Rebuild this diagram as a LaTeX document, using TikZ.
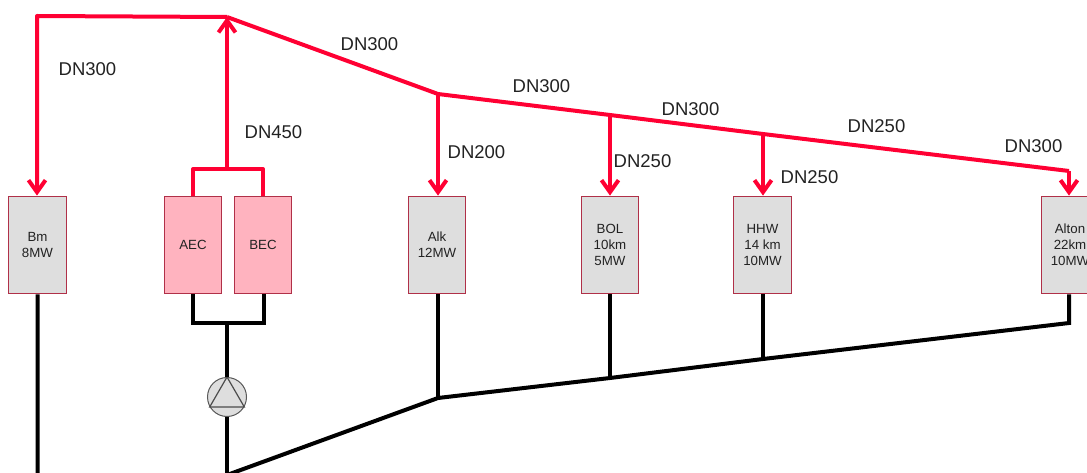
\documentclass[tikz,border=0pt]{standalone}
\usepackage{fontspec}
\setmainfont{Liberation Sans}
\usetikzlibrary{arrows.meta}
\definecolor{pipered}{HTML}{FF0033}
\definecolor{edge}{HTML}{B03048}
\definecolor{pinkbg}{HTML}{FFB3BF}
\definecolor{graybg}{HTML}{DEDEDE}
\definecolor{ink}{HTML}{222222}
\tikzset{
  blk/.style={rectangle,draw=edge,fill=graybg,line width=1.3pt,align=center,
    inner sep=0pt,minimum width=57.5pt,minimum height=97.5pt,text=ink,
    font=\fontsize{13.3}{16}\selectfont},
  blkp/.style={blk,fill=pinkbg},
  pipe/.style={line width=4pt,draw=pipered,line join=round},
  pipear/.style={pipe,-{Straight Barb[length=12pt,width=17pt,line width=4pt]}},
  ret/.style={line width=4pt,draw=black,line join=miter},
  lbl/.style={font=\fontsize{18.5}{20}\selectfont,text=ink},
}
\begin{document}
\begin{tikzpicture}[x=1pt,y=-1pt]
  \useasboundingbox (0,0) rectangle (1087,473);
  \node[blk] (bm) at (37.5,245) {Bm\\8MW};
  \node[blkp] (aec) at (193,245) {AEC};
  \node[blkp] (bec) at (263,245) {BEC};
  \node[blk] (alk) at (437,245) {Alk\\12MW};
  \node[blk] (bol) at (610,245) {BOL\\10km\\5MW};
  \node[blk] (hhw) at (762.5,245) {HHW\\14 km\\10MW};
  \node[blk] (alton) at (1070,245) {Alton\\22km\\10MW};
  \node[circle,draw=black!65,fill=graybg,line width=1pt,minimum size=39pt,inner sep=0pt] (pump) at (227,397) {};
  \draw[line width=1.2pt,draw=black!70] (pump.90)--(pump.-30)--(pump.210)--cycle;
  % supply side
  \coordinate (tl) at (37,16);
  \coordinate (top) at (227,17);
  \coordinate (mid) at (438,94);
  \coordinate (j1) at (610,115);
  \coordinate (j2) at (763,134);
  \coordinate (tr) at (1069,171);
  \coordinate (sa) at (193,169);
  \coordinate (sb) at (263,169);
  \coordinate (sm) at (227,169);
  \draw[pipe] (top)--(mid)--(j1)--(j2)--(tr);
  \draw[pipear] (top)--(tl)--(tl|-bm.north);
  \draw[pipear] (sm)--(top);
  \draw[pipe] (aec.north)--(sa)--(sb)--(bec.north);
  \draw[pipear] (mid)--(mid|-alk.north);
  \draw[pipear] (j1)--(j1|-bol.north);
  \draw[pipear] (j2)--(j2|-hhw.north);
  \draw[pipear] (tr)--(tr|-alton.north);
  % return side
  \coordinate (ra) at (193,323);
  \coordinate (rb) at (264,323);
  \coordinate (rm) at (227,323);
  \coordinate (bl) at (37.5,475);
  \coordinate (bot) at (227,475);
  \coordinate (rmid) at (438,398);
  \coordinate (r1) at (610,378);
  \coordinate (r2) at (763,359);
  \coordinate (rr) at (1069,323);
  \draw[ret] (aec.south)--(ra)--(rb)--(rb|-bec.south);
  \draw[ret] (rm)--(pump.north);
  \draw[ret] (pump.south)--(bot);
  \draw[ret] (bm.south)--(bl)--(bot)--(rmid)--(r1)--(r2)--(rr)--(rr|-alton.south);
  \draw[ret] (rmid|-alk.south)--(rmid);
  \draw[ret] (r1|-bol.south)--(r1);
  \draw[ret] (r2|-hhw.south)--(r2);
  % labels
  \node[lbl] (d1) at (87.5,69) {DN300};
  \node[lbl] (d2) at (369.5,44) {DN300};
  \node[lbl] (d3) at (273.5,132) {DN450};
  \node[lbl] (d4) at (476.5,152) {DN200};
  \node[lbl] (d5) at (541.5,86) {DN300};
  \node[lbl] (d6) at (642.5,161) {DN250};
  \node[lbl] (d7) at (690.5,109) {DN300};
  \node[lbl] (d8) at (809.5,177) {DN250};
  \node[lbl] (d9) at (876.5,126) {DN250};
  \node[lbl] (d10) at (1033.5,146) {DN300};
\end{tikzpicture}
\end{document}
